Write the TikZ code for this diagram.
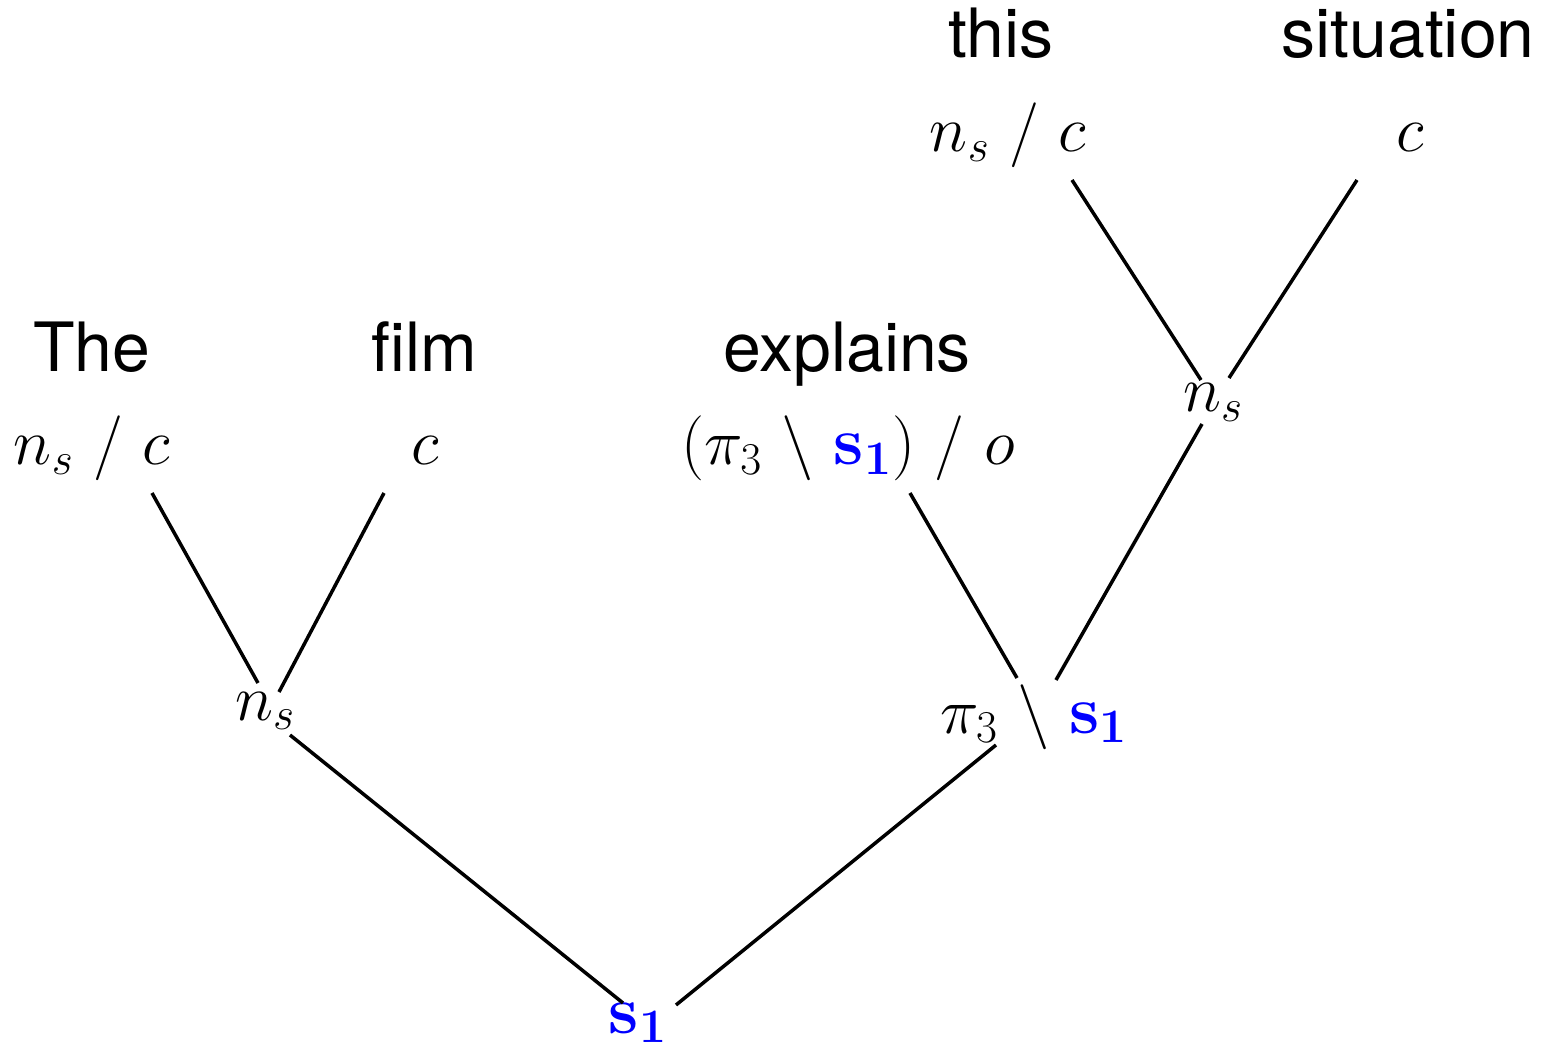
\RequirePackage{fix-cm}
\documentclass[tikz,border=0pt]{standalone}
\usepackage{fontspec}
\setsansfont{TeX Gyre Heros}
\usetikzlibrary{calc}
\newcommand{\bs}{\textcolor{blue}{\mbox{\bfseries\fontsize{34}{40}\selectfont s}_{\mbox{\bfseries\fontsize{24}{28}\selectfont 1}}}}
\tikzset{
 word/.style={anchor=base,inner sep=0,font=\sffamily\fontsize{34}{40}\selectfont},
 cat/.style={anchor=base,inner sep=0,font=\fontsize{32.5}{39}\selectfont},
 branch/.style={line width=1.75pt}
}

\begin{document}
\begin{tikzpicture}[x=0.5pt,y=-0.5pt]
\path[use as bounding box] (0,0) rectangle (1544,1048);
% words
\node[word] (the) at (92,372) {The};
\node[word] (film) at (424,372) {film};
\node[word] (expl) at (847,372) {explains};
\node[word] (this) at (1001,58) {this};
\node[word] (sit) at (1408,58) {situation};
% lexical categories
\node[cat] (tcat) at (92,465) {$n_s\ /\ c$};
\node[cat] (fcat) at (425,465) {$c$};
\node[cat] (ecat) at (848,465) {$(\pi_3\ \backslash\ \bs)\ /\ o$};
\node[cat] (thcat) at (1008,152) {$n_s\ /\ c$};
\node[cat] (scat) at (1410,152) {$c$};
% derived categories
\node[cat] (ns1) at (265,720) {$n_s$};
\node[cat] (ns2) at (1213,412) {$n_s$};
\node[cat] (pis) at (1034,733) {$\pi_3\ \backslash\ \bs$};
\node[cat] (root) at (638,1033) {$\bs$};
% branches
\draw[branch] ($(tcat.base)+(60,28)$) -- ($(ns1.base)+(-7,-37)$);
\draw[branch] ($(fcat.base)+(-41,28)$) -- ($(ns1.base)+(14,-28)$);
\draw[branch] ($(ns1.base)+(25,15)$) -- ($(root.base)+(-15,-30)$);
\draw[branch] ($(pis.base)+(-38,12)$) -- ($(root.base)+(38,-28)$);
\draw[branch] ($(ecat.base)+(62,28)$) -- ($(pis.base)+(-17,-55)$);
\draw[branch] ($(ns2.base)+(-11,12)$) -- ($(pis.base)+(22,-53)$);
\draw[branch] ($(thcat.base)+(64,28)$) -- ($(ns2.base)+(-12,-32)$);
\draw[branch] ($(scat.base)+(-53,28)$) -- ($(ns2.base)+(16,-34)$);
\end{tikzpicture}
\end{document}
